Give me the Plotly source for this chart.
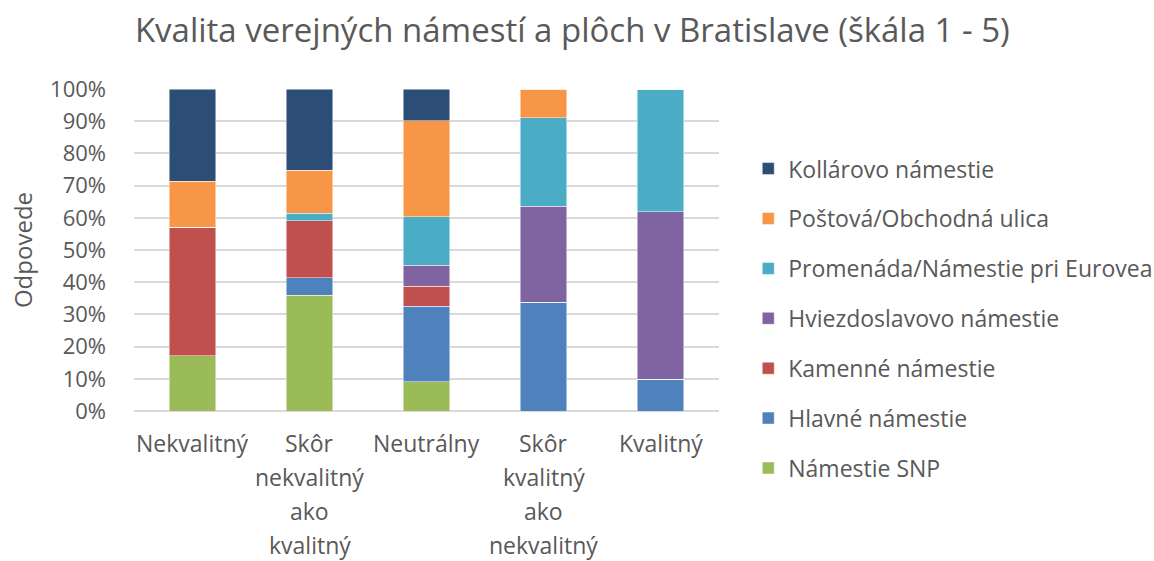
import plotly.graph_objects as go

categories = ["Nekvalitný", "Skôr\nnekvalitný\nako\nkvalitný", "Neutrálny",
              "Skôr\nkvalitný\nako\nnekvalitný", "Kvalitný"]

series_names = ["Námestie SNP", "Hlavné námestie", "Kamenné námestie",
                "Hviezdoslavovo námestie", "Promenáda/Námestie pri Eurovea",
                "Poštová/Obchodná ulica", "Kollárovo námestie"]

snp = [17.1, 36.0, 9.1, 0, 0]
hlavne = [0, 5.4, 23.5, 33.7, 9.8]
kamenne = [40.0, 17.7, 6.1, 0, 0]
hviezdoslavovo = [0, 0, 6.5, 29.9, 52.1]
promenada = [0, 2.3, 15.2, 27.4, 38.1]
postova = [14.3, 13.4, 29.8, 9.0, 0]
kollarovo = [28.6, 25.2, 9.8, 0, 0]

values = [snp, hlavne, kamenne, hviezdoslavovo, promenada, postova, kollarovo]
colors = ["#9BBB59", "#4F81BD", "#C0504D", "#8064A2", "#4BACC6", "#F79646", "#2C4D75"]

FONT = "Open Sans"
TXT = "#595959"

fig = go.Figure()
xs = list(range(len(categories)))
n = len(series_names)
for k, (name, vals, col) in enumerate(zip(series_names, values, colors)):
    fig.add_trace(go.Bar(
        x=xs, y=vals, name=name, legendgroup=name, legendrank=n - k,
        marker=dict(color=col, line=dict(color="rgba(255,255,255,0.6)", width=0.8)),
        width=0.4,
    ))

for i, cat in enumerate(categories):
    for j, line in enumerate(cat.split("\n")):
        fig.add_annotation(x=i, xref="x", y=-0.098 - j * 0.106, yref="paper",
                           text=line, showarrow=False, yanchor="middle",
                           font=dict(family=FONT, size=23, color=TXT))

fig.update_layout(
    barmode="stack",
    width=1154, height=561,
    margin=dict(l=134, r=435, t=89, b=150, autoexpand=False),
    paper_bgcolor="white", plot_bgcolor="white",
    title=dict(text="Kvalita verejných námestí a plôch v Bratislave (škála 1 - 5)",
               x=0.496, xanchor="center", y=0.945, yanchor="middle",
               font=dict(family=FONT, size=33, color=TXT)),
    font=dict(family=FONT, color=TXT),
    legend=dict(x=1.05, xanchor="left", yref="container", y=0.432, yanchor="middle",
                traceorder="grouped", tracegroupgap=17, maxheight=1,
                font=dict(family=FONT, size=23, color=TXT)),
    xaxis=dict(range=[-0.5, 4.5], showticklabels=False, showgrid=False,
               zeroline=False, showline=False, fixedrange=True),
    yaxis=dict(range=[0, 100], dtick=10, ticksuffix="%", showgrid=True,
               gridcolor="#D9D9D9", gridwidth=1.5, zeroline=True,
               zerolinecolor="#D9D9D9", zerolinewidth=1.5,
               ticklabelstandoff=27,
               tickfont=dict(family=FONT, size=22, color=TXT),
               title=dict(text="Odpovede", standoff=10,
                          font=dict(family=FONT, size=24, color=TXT))),
    showlegend=True,
)

fig.write_html("out.html", config={"displayModeBar": False},
               post_script="document.body.style.margin='0';document.body.style.padding='0';")
